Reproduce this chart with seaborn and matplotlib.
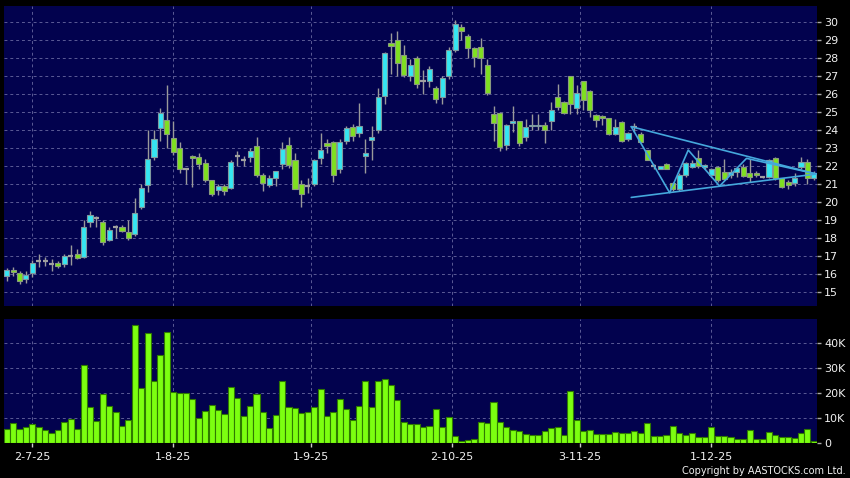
import numpy as np
import pandas as pd
import seaborn as sns
import matplotlib
matplotlib.use("Agg")
import matplotlib.pyplot as plt

sns.set_theme(style="dark")
plt.rcParams["font.family"] = ["DejaVu Sans"]

# daily prices (one entry per trading day)
opens = [15.9, 16.2, 16.07, 15.7, 16.07, 16.7, 16.7, 16.57, 16.6, 16.55,
         17.0, 17.1, 16.93, 18.87, 19.1, 18.9, 17.9, 18.57, 18.57, 18.3,
         18.2, 19.7, 20.92, 22.46, 24.07, 24.53, 23.52, 22.97, 21.8, 22.55,
         22.46, 22.15, 21.19, 20.64, 20.86, 20.77, 22.55, 22.31, 22.46, 23.1,
         21.47, 20.92, 21.3, 22.11, 23.17, 22.33, 21.0, 20.85, 21.0, 22.44,
         23.28, 23.31, 21.83, 23.35, 24.15, 23.83, 22.52, 23.44, 23.96, 25.85,
         28.8, 29.0, 28.17, 27.0, 27.96, 26.7, 26.7, 26.3, 25.83, 26.96,
         28.43, 29.69, 29.2, 28.52, 28.57, 27.57, 24.85, 24.94, 23.15, 24.35,
         24.5, 23.57, 24.2, 24.2, 24.28, 24.48, 25.83, 25.56, 27.0, 25.19,
         26.69, 26.17, 24.81, 24.76, 24.63, 23.76, 24.44, 23.49, 24.13, 23.76,
         22.88, 21.96, 21.84, 22.09, 21.05, 20.72, 21.48, 21.95, 22.44, 21.95,
         21.48, 21.95, 21.67, 21.48, 21.67, 21.95, 21.61, 21.61, 21.39, 21.35,
         22.44, 21.3, 21.11, 21.02, 21.91, 22.19, 21.3]
highs = [16.3, 16.4, 16.15, 16.15, 16.75, 17.1, 16.95, 16.83, 16.7, 17.1,
         17.6, 17.4, 19.0, 19.5, 19.2, 19.0, 18.6, 18.7, 18.7, 19.0,
         20.2, 21.0, 24.0, 24.0, 25.2, 26.5, 24.48, 23.3, 21.82, 22.6,
         22.7, 22.4, 21.2, 21.0, 21.0, 22.3, 22.8, 22.55, 23.0, 23.6,
         21.6, 21.5, 21.7, 23.3, 23.6, 22.7, 21.2, 21.3, 22.4, 23.8,
         23.5, 23.4, 23.5, 24.2, 24.3, 25.5, 23.5, 24.2, 26.3, 28.3,
         29.35, 29.5, 28.7, 27.9, 28.1, 27.3, 27.55, 26.4, 27.0, 28.57,
         30.1, 29.87, 29.3, 28.6, 29.07, 27.9, 25.3, 25.0, 24.3, 25.33,
         24.5, 24.6, 24.9, 24.9, 24.44, 25.54, 26.55, 25.6, 27.0, 26.46,
         26.7, 26.2, 24.85, 24.8, 24.65, 24.6, 24.5, 23.9, 24.35, 23.85,
         22.9, 22.1, 22.0, 22.15, 21.1, 21.6, 22.2, 22.3, 22.9, 22.1,
         21.9, 22.0, 22.4, 21.8, 21.9, 22.1, 22.4, 21.7, 21.45, 22.4,
         22.5, 21.3, 21.2, 21.6, 22.5, 22.4, 21.7]
lows = [15.6, 15.9, 15.45, 15.5, 15.8, 16.4, 16.45, 16.13, 16.3, 16.4,
        16.5, 16.8, 16.9, 18.6, 18.6, 17.6, 17.8, 18.0, 18.3, 17.9,
        18.1, 19.6, 20.55, 22.3, 23.4, 23.0, 22.6, 21.6, 20.99, 20.8,
        21.8, 21.1, 20.3, 20.4, 20.4, 20.7, 22.0, 22.0, 22.2, 21.4,
        20.6, 20.8, 20.9, 21.8, 21.9, 20.7, 19.7, 20.5, 20.9, 22.1,
        22.7, 21.1, 21.6, 23.2, 23.4, 23.6, 21.6, 22.3, 23.8, 25.4,
        27.1, 27.0, 26.9, 26.7, 26.3, 26.0, 26.35, 25.48, 25.43, 26.8,
        28.3, 29.0, 27.96, 27.5, 27.1, 25.9, 23.4, 22.83, 22.9, 23.9,
        23.1, 23.4, 24.0, 24.0, 23.25, 23.98, 25.08, 24.86, 24.9, 24.9,
        25.12, 24.72, 24.17, 24.25, 23.7, 23.7, 23.3, 23.4, 23.9, 23.3,
        22.3, 21.8, 21.8, 21.8, 20.6, 20.6, 21.4, 21.9, 21.9, 21.8,
        21.4, 21.1, 21.2, 21.3, 21.4, 21.4, 21.1, 21.4, 21.3, 21.3,
        21.2, 20.75, 20.7, 20.9, 21.8, 21.0, 21.2]
closes = [16.2, 16.1, 15.6, 15.95, 16.6, 16.7, 16.7, 16.57, 16.45, 17.0,
          17.0, 16.9, 18.6, 19.26, 19.1, 17.76, 18.45, 18.57, 18.37, 18.0,
          19.37, 20.76, 22.37, 23.49, 24.95, 23.74, 22.75, 21.82, 21.8, 22.45,
          22.11, 21.19, 20.44, 20.86, 20.6, 22.2, 22.55, 22.31, 22.83, 21.5,
          21.05, 21.32, 21.7, 22.94, 22.02, 20.72, 20.44, 20.85, 22.33, 22.85,
          23.11, 21.46, 23.31, 24.11, 23.63, 24.19, 22.72, 23.6, 25.81, 28.26,
          28.67, 27.72, 27.02, 27.6, 26.52, 26.7, 27.35, 25.69, 26.85, 28.43,
          29.87, 29.5, 28.52, 28.02, 27.96, 26.02, 24.39, 23.02, 24.26, 24.5,
          23.28, 24.13, 24.26, 24.26, 23.98, 25.09, 25.24, 24.94, 25.43, 26.02,
          25.65, 25.09, 24.54, 24.63, 23.76, 24.17, 23.38, 23.83, 24.13, 23.34,
          22.33, 21.96, 21.96, 21.83, 20.72, 21.5, 22.13, 22.17, 21.98, 22.04,
          21.8, 21.2, 21.26, 21.67, 21.85, 21.43, 21.39, 21.48, 21.39, 22.32,
          21.3, 20.83, 20.93, 21.3, 22.19, 21.3, 21.61]
# volume in thousands of shares
volume_k = [5.7, 8.0, 5.7, 6.7, 7.9, 6.5, 5.3, 4.0, 5.2, 8.5,
            9.9, 5.6, 31.5, 14.4, 8.9, 19.6, 14.8, 12.5, 7.1, 9.5,
            47.2, 22.1, 44.3, 25.1, 35.3, 44.4, 20.7, 20.3, 20.3, 17.9,
            10.3, 12.9, 15.5, 13.2, 11.7, 22.5, 18.3, 11.1, 14.8, 19.9,
            12.5, 6.1, 11.3, 24.9, 14.5, 14.0, 12.0, 12.4, 14.4, 21.9,
            10.9, 12.5, 17.6, 13.7, 9.3, 15.1, 24.8, 14.4, 25.1, 25.7,
            23.5, 17.5, 8.5, 7.7, 7.7, 6.4, 6.9, 13.7, 6.7, 10.7,
            3.1, 0.9, 1.3, 1.9, 8.5, 8.1, 16.4, 8.4, 6.5, 5.5,
            5.1, 3.6, 3.2, 3.2, 4.9, 6.3, 6.5, 3.5, 20.8, 9.2,
            4.9, 5.2, 3.6, 3.6, 3.9, 4.5, 4.1, 4.3, 5.1, 4.0,
            8.3, 3.1, 3.1, 3.5, 6.9, 4.0, 3.5, 4.1, 2.5, 2.5,
            6.5, 2.9, 2.9, 2.5, 1.9, 1.9, 5.2, 1.9, 1.9, 4.7,
            3.2, 2.5, 2.5, 2.1, 4.0, 5.6, 1.1]

date_ticks = [4, 26, 47.5, 69.5, 89.5, 110]
date_labels = ["2-7-25", "1-8-25", "1-9-25", "2-10-25", "3-11-25", "1-12-25"]
price_ticks = list(range(15, 31))
vol_ticks = [0, 10, 20, 30, 40]
vol_labels = ["0", "10K", "20K", "30K", "40K"]

# triangle pattern drawn on the chart (bar index, price)
upper_x, upper_y = [97.5, 126.4], [24.17, 21.54]
lower_x, lower_y = [97.5, 126.4], [20.24, 21.54]
zig_x = [97.5, 103.5, 106.4, 111.3, 115.5, 126.4]
zig_y = [24.17, 20.5, 22.87, 20.87, 22.41, 21.54]

df = pd.DataFrame({"open": opens, "high": highs, "low": lows,
                   "close": closes, "vol": volume_k})
df["idx"] = np.arange(len(df))

NAVY = "#02024e"
CYAN = "#35e6f2"
GREEN = "#7fe020"
GRID = "#5b5b96"
TXT = "#f0f0f0"

fig = plt.figure(figsize=(8.5, 4.78), dpi=100, facecolor="black")
ax = fig.add_axes([4 / 850, 1 - 306 / 478, 813 / 850, 300 / 478])
ax2 = fig.add_axes([4 / 850, 1 - 443.3 / 478, 813 / 850, 124.3 / 478], sharex=ax)

for a in (ax, ax2):
    a.set_facecolor(NAVY)
    for s in a.spines.values():
        s.set_visible(False)
    a.grid(False)
    for t in date_ticks:
        a.axvline(t, color=GRID, lw=0.7, ls=(0, (3, 3)), zorder=0)

# price panel
for p in price_ticks:
    ax.axhline(p, color=GRID, lw=0.7, ls=(0, (3, 3)), zorder=0)

ax.vlines(df["idx"], df["low"], df["high"], color="#9a9a9a", lw=1, zorder=2)
up = df[df["close"] > df["open"]]
dn = df[df["close"] < df["open"]]
fl = df[df["close"] == df["open"]]
ax.bar(up["idx"], up["close"] - up["open"], bottom=up["open"], width=0.8,
       color=CYAN, edgecolor="#7f9aa0", lw=0.8, zorder=3)
ax.bar(dn["idx"], dn["open"] - dn["close"], bottom=dn["close"], width=0.8,
       color=GREEN, edgecolor="#8a9a80", lw=0.8, zorder=3)
ax.hlines(fl["open"], fl["idx"] - 0.4, fl["idx"] + 0.4, color="#a0a0a0", lw=1.6, zorder=3)

for xs, ys in ((upper_x, upper_y), (lower_x, lower_y), (zig_x, zig_y)):
    sns.lineplot(x=xs, y=ys, ax=ax, color="#45a8dc", lw=1.2, sort=False, zorder=4)

ax.set_xlim(-0.42, 126.5)
ax.set_ylim(14.21, 30.87)
ax.yaxis.tick_right()
ax.set_yticks(price_ticks)
ax.tick_params(axis="y", colors="#aaaaaa", labelcolor=TXT, length=3, width=1,
               pad=2, labelsize=8, right=True)
ax.tick_params(axis="x", bottom=False, labelbottom=False)
ax.set_xlabel("")
ax.set_ylabel("")

# volume panel
for v in vol_ticks[1:]:
    ax2.axhline(v, color=GRID, lw=0.7, ls=(0, (3, 3)), zorder=0)
sns.barplot(data=df, x="idx", y="vol", native_scale=True, color="#7cff10",
            saturation=1, edgecolor="#2f7a00", linewidth=0.8, width=0.95,
            errorbar=None, ax=ax2, zorder=3)
ax2.set_ylim(0, 49.7)
ax2.yaxis.tick_right()
ax2.set_yticks(vol_ticks)
ax2.set_yticklabels(vol_labels)
ax2.set_xticks(date_ticks)
ax2.set_xticklabels(date_labels)
ax2.tick_params(axis="y", colors="#aaaaaa", labelcolor=TXT, length=3, width=1,
                pad=2, labelsize=8, right=True, left=False)
ax2.tick_params(axis="x", colors="#cccccc", labelcolor=TXT, length=3, width=1,
                pad=3.5, labelsize=8, bottom=True)
ax2.set_xlim(-0.42, 126.5)
ax2.set_xlabel("")
ax2.set_ylabel("")

fig.text(846 / 850, 1 - 471.5 / 478, "Copyright by AASTOCKS.com Ltd.", color=TXT,
         fontsize=7, ha="right", va="center")

fig.savefig("out.png", dpi=100, facecolor="black")
